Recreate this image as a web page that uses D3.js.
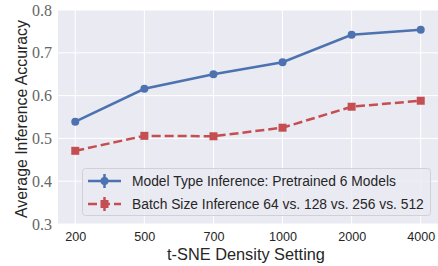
<!DOCTYPE html>
<html><head><meta charset="utf-8">
<script src="https://cdn.jsdelivr.net/npm/d3@7"></script>
<style>body{margin:0;background:#fff}</style>
</head><body><svg id="c" width="438" height="266"></svg>
<script>
const categories = ["200","500","700","1000","2000","4000"];
const modelType = [0.539, 0.616, 0.650, 0.678, 0.742, 0.754];
const batchSize = [0.471, 0.506, 0.505, 0.525, 0.574, 0.588];
const batchErr = [0.004, 0.003, 0.003, 0.006, 0.004, 0.007];
const yTicks = [0.3, 0.4, 0.5, 0.6, 0.7, 0.8];
const seriesNames = ["Model Type Inference:  Pretrained 6 Models", "Batch Size Inference 64 vs. 128 vs. 256 vs. 512"];

const SANS = "Liberation Sans", SERIF = "Liberation Serif";
function fit(sel, w){ // scale font so the text is w px wide
  sel.each(function(){
    const fs = parseFloat(this.getAttribute("font-size"));
    const L = this.getComputedTextLength();
    this.setAttribute("font-size", (fs*w/L).toFixed(2));
  });
}

const svg = d3.select("#c");
const m = {l:58, r:0, t:10, b:42};
const W = 438, H = 266;
const x = d3.scalePoint().domain(categories).range([m.l, W-m.r]).padding(0.25);
const y = d3.scaleLinear().domain([0.3,0.8]).range([H-m.b, m.t]);

svg.append("rect").attr("x",m.l).attr("y",m.t).attr("width",W-m.r-m.l).attr("height",H-m.b-m.t).attr("fill","#EAEAF2");
const g = svg.append("g");
g.selectAll(".gy").data(yTicks).join("line").attr("x1",m.l).attr("x2",W-m.r)
  .attr("y1",d=>y(d)).attr("y2",d=>y(d)).attr("stroke","#fff").attr("stroke-width",1);
g.selectAll(".gx").data(categories).join("line").attr("y1",m.t).attr("y2",H-m.b)
  .attr("x1",d=>x(d)).attr("x2",d=>x(d)).attr("stroke","#fff").attr("stroke-width",1);

const xa = svg.append("g").attr("transform",`translate(0,${H-m.b})`).call(d3.axisBottom(x).tickSize(0).tickPadding(8));
xa.select(".domain").remove();
xa.selectAll("text").attr("font-family",SANS).attr("font-size",14).attr("fill","#262626");
xa.selectAll("text").filter(d=>d==="1000").call(fit, 28);
const xfs = xa.selectAll("text").filter(d=>d==="1000").attr("font-size");
xa.selectAll("text").attr("font-size", xfs);
const ya = svg.append("g").attr("transform",`translate(${m.l},0)`).call(d3.axisLeft(y).tickValues(yTicks).tickFormat(d3.format(".1f")).tickSize(0).tickPadding(6));
ya.select(".domain").remove();
ya.selectAll("text").attr("font-family",SERIF).attr("font-size",15).attr("fill","#666");
ya.selectAll("text").filter(d=>d===0.8).call(fit, 20);
const yfs = ya.selectAll("text").filter(d=>d===0.8).attr("font-size");
ya.selectAll("text").attr("font-size", yfs);

svg.append("text").attr("x",246).attr("y",260).attr("text-anchor","middle")
  .attr("font-family",SANS).attr("font-size",16).attr("fill","#262626").text("t-SNE Density Setting").call(fit,158);
svg.append("text").attr("transform","translate(27,119) rotate(-90)").attr("text-anchor","middle")
  .attr("font-family",SANS).attr("font-size",16).attr("fill","#262626").text("Average Inference Accuracy").call(fit,198);

const blue = "#4C72B0", red = "#C44E52";
const line = d3.line().x((d,i)=>x(categories[i])).y(d=>y(d));
svg.append("path").datum(modelType).attr("d",line).attr("fill","none").attr("stroke",blue).attr("stroke-width",2.5);
svg.selectAll(".mb").data(modelType).join("circle").attr("cx",(d,i)=>x(categories[i])).attr("cy",d=>y(d)).attr("r",4).attr("fill",blue);

svg.append("path").datum(batchSize).attr("d",line).attr("fill","none").attr("stroke",red).attr("stroke-width",2.5).attr("stroke-dasharray","9,4");
svg.selectAll(".eb").data(batchSize).join("line").attr("x1",(d,i)=>x(categories[i])).attr("x2",(d,i)=>x(categories[i]))
  .attr("y1",(d,i)=>y(d-batchErr[i])).attr("y2",(d,i)=>y(d+batchErr[i])).attr("stroke",red).attr("stroke-width",2.5);
svg.selectAll(".mr").data(batchSize).join("rect").attr("x",(d,i)=>x(categories[i])-4).attr("y",d=>y(d)-4).attr("width",8).attr("height",8).attr("fill",red);

// legend
const lg = svg.append("g");
lg.append("rect").attr("x",82.5).attr("y",168.5).attr("width",348).attr("height",47).attr("rx",3)
  .attr("fill","#EAEAF2").attr("fill-opacity",0.8).attr("stroke","#d0d0d8").attr("stroke-width",1);
const rows = [{c:blue,dash:null,mk:"circle",name:seriesNames[0],w:265},{c:red,dash:"9,4",mk:"rect",name:seriesNames[1],w:292}];
let lfs = null;
rows.forEach((r,i)=>{
  const cy = 181 + i*23;
  lg.append("line").attr("x1",88).attr("x2",121).attr("y1",cy).attr("y2",cy).attr("stroke",r.c).attr("stroke-width",2.5).attr("stroke-dasharray",r.dash);
  lg.append("line").attr("x1",104.5).attr("x2",104.5).attr("y1",cy-7).attr("y2",cy+7).attr("stroke",r.c).attr("stroke-width",2.5);
  if(r.mk==="circle") lg.append("circle").attr("cx",104.5).attr("cy",cy).attr("r",4).attr("fill",r.c);
  else lg.append("rect").attr("x",100.5).attr("y",cy-4).attr("width",8).attr("height",8).attr("fill",r.c);
  const t = lg.append("text").attr("x",132).attr("y",cy+5).attr("font-family",SANS).attr("font-size",14).attr("fill","#262626").text(r.name);
  if(i===1) t.call(fit, r.w);
  r.t = t;
});
rows[0].t.attr("font-size", rows[1].t.attr("font-size"));
</script></body></html>
